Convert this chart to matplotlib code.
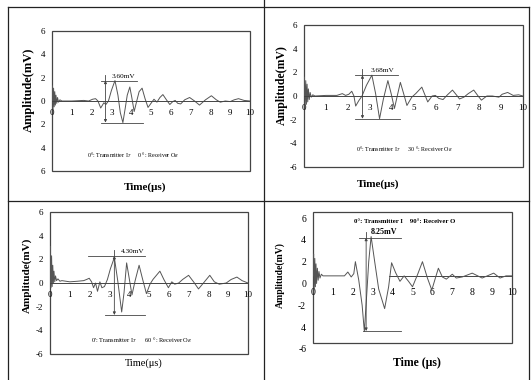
import matplotlib
matplotlib.use('Agg')
import matplotlib.pyplot as plt
from matplotlib.patches import Rectangle
from matplotlib.lines import Line2D

plt.rcParams['font.family'] = ['Liberation Serif', 'DejaVu Serif']
plt.rcParams['mathtext.fontset'] = 'stix'

W, H = 531, 380

# ---------------- data ----------------
x_ticks = [0, 1, 2, 3, 4, 5, 6, 7, 8, 9, 10]
x_tick_labels = ['0', '1', '2', '3', '4', '5', '6', '7', '8', '9', '10']
y_ticks = [-6, -4, -2, 0, 2, 4, 6]
y_labels1 = ['6', '4', '2', '0', '2', '4', '6']
y_labels2 = ['-6', '-4', '-2', '0', '2', '4', '6']
y_labels3 = ['-6', '-4', '-2', '0', '2', '4', '6']
y_ticks4 = [-4, -2, 0, 2, 4, 6]
y_labels4 = ['4', '-2', '0', '2', '4', '6']

# Panel 1: 0 deg transmitter, 0 deg receiver
t1 = [0, 0.02, 0.05, 0.08, 0.11, 0.14, 0.17, 0.2, 0.24, 0.28, 0.33, 0.4, 0.5,
      1.0, 1.6, 1.85, 2.05, 2.2, 2.32, 2.46, 2.62, 2.72, 2.85, 3.0, 3.18, 3.33,
      3.45, 3.58, 3.7, 3.8, 3.93, 4.03, 4.15, 4.28, 4.4, 4.55, 4.7, 4.85, 5.0,
      5.15, 5.3, 5.45, 5.6, 5.78, 5.95, 6.1, 6.22, 6.35, 6.5, 6.7, 6.95, 7.2,
      7.45, 7.75, 8.05, 8.3, 8.5, 8.75, 9.0, 9.2, 9.42, 9.7, 10]
amp1 = [0, 1.3, -0.7, 1.1, -0.5, 0.8, -0.35, 0.5, -0.2, 0.3, -0.1, 0.1, 0.0,
        0.0, 0.05, 0.0, 0.15, 0.2, 0.0, -0.6, -0.15, -0.3, 0.0, 0.9, 1.75, 0.5,
        -1.0, -1.85, -0.6, 0.5, 1.2, 0.3, -0.9, 0.0, 0.8, 1.1, 0.2, -0.55, -0.2,
        0.15, -0.1, 0.3, 0.55, 0.1, -0.3, -0.05, 0.05, -0.2, -0.25, 0.1, 0.3, 0.0,
        -0.35, 0.1, 0.45, 0.1, -0.1, 0.0, -0.05, 0.1, 0.2, 0.05, 0.0]

# Panel 2: 0 deg transmitter, 30 deg receiver
t2 = [0, 0.02, 0.05, 0.08, 0.11, 0.14, 0.17, 0.2, 0.24, 0.28, 0.33, 0.4, 0.5,
      1.0, 1.5, 1.75, 1.9, 2.05, 2.18, 2.28, 2.36, 2.5, 2.65, 2.85, 3.1, 3.27,
      3.45, 3.62, 3.83, 3.98, 4.13, 4.27, 4.4, 4.55, 4.7, 4.92, 5.1, 5.38, 5.52,
      5.65, 5.85, 6.0, 6.15, 6.35, 6.55, 6.78, 7.0, 7.1, 7.3, 7.5, 7.75, 7.95,
      8.1, 8.35, 8.6, 8.9, 9.05, 9.3, 9.55, 9.8, 10]
amp2 = [0, 1.6, -0.9, 1.3, -0.7, 1.0, -0.5, 0.6, -0.3, 0.3, -0.1, 0.1, 0.0,
        0.05, 0.05, 0.2, 0.05, 0.15, 0.4, 0.0, -0.85, -0.4, 0.0, 0.9, 1.76, 0.2,
        -1.92, -0.3, 1.3, 0.2, -1.05, 0.1, 1.15, 0.2, -0.8, -0.1, 0.2, 0.75, 0.1,
        -0.5, 0.0, 0.05, -0.2, -0.3, 0.1, 0.5, 0.0, -0.25, -0.1, 0.2, 0.5, 0.0,
        -0.35, 0.0, 0.0, -0.1, 0.15, 0.3, 0.05, 0.1, 0.0]

# Panel 3: 0 deg transmitter, 60 deg receiver
t3 = [0, 0.02, 0.05, 0.08, 0.11, 0.14, 0.17, 0.2, 0.24, 0.28, 0.33, 0.4, 0.5,
      0.6, 1.0, 1.4, 1.7, 1.85, 1.98, 2.1, 2.2, 2.3, 2.4, 2.52, 2.62, 2.75, 2.9,
      3.05, 3.25, 3.42, 3.62, 3.74, 3.87, 4.0, 4.14, 4.3, 4.5, 4.68, 4.87, 5.05,
      5.2, 5.55, 5.75, 5.98, 6.15, 6.3, 6.5, 6.7, 7.0, 7.25, 7.5, 7.8, 8.07, 8.3,
      8.55, 8.9, 9.15, 9.44, 9.7, 10]
amp3 = [0, 3.1, -0.4, 2.3, -0.3, 1.5, 0.0, 1.0, 0.1, 0.6, 0.2, 0.35, 0.15,
        0.2, 0.1, 0.15, 0.2, 0.3, 0.4, 0.1, -0.4, 0.0, -0.7, 0.1, -0.4, -0.3, 0.3,
        1.2, 2.15, 0.2, -2.45, -0.8, 1.7, 0.4, -1.0, 0.2, 1.5, 0.3, -0.9, -0.1,
        0.3, 1.0, 0.3, -0.4, 0.1, -0.1, 0.0, 0.3, 0.65, 0.1, -0.5, 0.1, 0.65, 0.1,
        -0.1, 0.0, 0.3, 0.5, 0.2, 0.0]

# Panel 4: 0 deg transmitter, 90 deg receiver
t4 = [0, 0.03, 0.06, 0.09, 0.12, 0.15, 0.18, 0.22, 0.26, 0.3, 0.35, 0.42, 0.5,
      1.0, 1.4, 1.58, 1.75, 1.92, 2.05, 2.13, 2.3, 2.47, 2.58, 2.7, 2.8, 2.92,
      3.1, 3.3, 3.6, 3.8, 3.95, 4.15, 4.37, 4.58, 4.8, 5.0, 5.25, 5.5, 5.75,
      5.97, 6.15, 6.3, 6.5, 6.7, 7.0, 7.2, 7.5, 8.0, 8.5, 9.08, 9.4, 9.7, 10]
amp4 = [0.7, 2.7, -0.6, 2.3, -0.3, 1.8, 0.0, 1.4, 0.3, 1.1, 0.5, 0.85, 0.7,
        0.7, 0.7, 0.7, 1.05, 0.6, 0.9, 2.0, 0.3, -2.0, -4.4, -1.0, 2.0, 4.3,
        2.0, -0.5, -2.3, -0.3, 1.9, 1.0, 0.2, 0.7, 0.2, -0.3, 0.8, 2.0, 0.5,
        -0.6, 0.5, 1.4, 0.6, 0.4, 0.85, 0.5, 0.6, 0.95, 0.5, 0.95, 0.5, 0.7, 0.7]
baseline4 = 0.7
baseline4_span = [3.83, 10]

# peak-to-peak annotations
ann1 = dict(x=2.7, top=1.75, bot=-1.85, top_span=(2.45, 4.3), bot_span=(2.45, 4.6), label='3.60mV', lx=3.6)
ann2 = dict(x=2.67, top=1.76, bot=-1.92, top_span=(2.33, 4.3), bot_span=(2.33, 4.4), label='3.68mV', lx=3.6)
ann3 = dict(x=3.25, top=2.3, bot=-2.7, top_span=(1.94, 4.8), bot_span=(2.78, 4.8), label='4.30mV', lx=4.2)
ann4 = dict(x=2.67, top=4.2, bot=-4.35, top_span=(2.33, 4.42), bot_span=(2.5, 4.42), label='8.25mV', lx=3.55)

titles = ['0°: Transmitter I$_T$     0 °: Receiver O$_R$',
          '0°: Transmitter I$_T$      30 °: Receiver O$_R$',
          "0': Transmitter I$_T$      60 °: Receiver O$_R$",
          '0°: Transmitter I    90°: Receiver O']

# ---------------- figure ----------------
fig = plt.figure(figsize=(W / 100, H / 100), dpi=100)
fig.patch.set_facecolor('white')

def px_axes(x0, y0, x1, y1):
    return fig.add_axes([x0 / W, 1 - y1 / H, (x1 - x0) / W, (y1 - y0) / H])

LINE = '#444444'
WAVE = '#555555'

def setup(ax, ylim, yticks, ylabels, zero_y, pad_x, show_zero=True, fs=6.5):
    ax.set_xlim(0, 10)
    ax.set_ylim(*ylim)
    for s in ['top', 'right', 'left']:
        ax.spines[s].set_visible(False)
    ax.spines['bottom'].set_position(('data', zero_y))
    ax.spines['bottom'].set_linewidth(0.7)
    ax.spines['bottom'].set_color(LINE)
    ax.spines['bottom'].set_visible(show_zero)
    ax.set_xticks(x_ticks)
    ax.set_xticklabels(x_tick_labels)
    ax.tick_params(axis='x', length=0, pad=pad_x, labelsize=fs)
    ax.set_yticks(yticks)
    ax.set_yticklabels(ylabels)
    ax.tick_params(axis='y', length=0, pad=5, labelsize=fs)
    ax.add_patch(Rectangle((0, 0), 1, 1, transform=ax.transAxes, fill=False,
                           lw=0.9, ec=LINE, clip_on=False))

def annotate(ax, a, fs=5.2, bold=False):
    ax.plot(a['top_span'], [a['top'], a['top']], color=LINE, lw=0.6)
    ax.plot(a['bot_span'], [a['bot'], a['bot']], color=LINE, lw=0.6)
    ax.plot([a['x'], a['x']], [a['top'], a['top'] + 0.5], color=LINE, lw=0.6)
    ax.annotate('', xy=(a['x'], a['top']), xytext=(a['x'], a['bot']),
                arrowprops=dict(arrowstyle='<|-|>', lw=0.6, color=LINE,
                                mutation_scale=4, shrinkA=0, shrinkB=0))
    ax.text(a['lx'], a['top'] + 0.15, a['label'], fontsize=fs, ha='center', va='bottom',
            fontweight='bold' if bold else 'normal')

# Panel 1
ax1 = px_axes(52, 31, 250, 171)
setup(ax1, (-6, 6), y_ticks, y_labels1, 0, 5.5)
ax1.plot(t1, amp1, color=WAVE, lw=0.7)
annotate(ax1, ann1)
ax1.text(4.1, -4.6, titles[0], fontsize=4.3, ha='center', va='center')

# Panel 2
ax2 = px_axes(304, 25, 523, 167)
setup(ax2, (-6, 6), y_ticks, y_labels2, 0, 5.5)
ax2.plot(t2, amp2, color=WAVE, lw=0.7)
annotate(ax2, ann2)
ax2.text(4.6, -4.5, titles[1], fontsize=4.3, ha='center', va='center')

# Panel 3
ax3 = px_axes(50, 212, 248, 354)
setup(ax3, (-6, 6), y_ticks, y_labels3, 0, 5.5)
ax3.plot(t3, amp3, color=WAVE, lw=0.7)
annotate(ax3, ann3)
ax3.text(4.6, -4.8, titles[2], fontsize=4.6, ha='center', va='center')

# Panel 4
ax4 = px_axes(313, 212, 512, 343)
setup(ax4, (-5.45, 6.55), y_ticks4, y_labels4, baseline4, 9, show_zero=False, fs=7)
ax4.text(-0.03, -6, '-6', transform=ax4.get_yaxis_transform(), ha='right',
         va='center', fontsize=7)
ax4.plot(baseline4_span, [baseline4, baseline4], color=LINE, lw=0.7)
ax4.plot(t4, amp4, color=WAVE, lw=0.7)
annotate(ax4, ann4, fs=5.8, bold=True)
ax4.text(4.6, 5.7, titles[3], fontsize=4.9, ha='center', va='center', fontweight='bold')

# axis titles
fig.text(29 / W, 1 - 90 / H, 'Amplitude(mV)', rotation=90, ha='center', va='center',
         fontsize=9, fontweight='bold')
fig.text(282 / W, 1 - 85 / H, 'Amplitude(mV)', rotation=90, ha='center', va='center',
         fontsize=8.5, fontweight='bold')
fig.text(27 / W, 1 - 275 / H, 'Amplitude(mV)', rotation=90, ha='center', va='center',
         fontsize=8, fontweight='bold')
fig.text(280 / W, 1 - 275 / H, 'Amplitude(mV)', rotation=90, ha='center', va='center',
         fontsize=7, fontweight='bold')
fig.text(145 / W, 1 - 187 / H, 'Time(μs)', ha='center', va='center', fontsize=8, fontweight='bold')
fig.text(378 / W, 1 - 184 / H, 'Time(μs)', ha='center', va='center', fontsize=8, fontweight='bold')
fig.text(144 / W, 1 - 363 / H, 'Time(μs)', ha='center', va='center', fontsize=7.5)
fig.text(417 / W, 1 - 363 / H, 'Time (μs)', ha='center', va='center', fontsize=8.5, fontweight='bold')

# panel frame lines
def fline(x0, y0, x1, y1):
    fig.add_artist(Line2D([x0 / W, x1 / W], [1 - y0 / H, 1 - y1 / H], color='#222222', lw=0.9))

fline(8, 7, 529, 7)
fline(8, 7, 8, 380)
fline(264, 0, 264, 380)
fline(529, 7, 529, 380)
fline(8, 201, 529, 201)

fig.savefig('out.png', dpi=100)
